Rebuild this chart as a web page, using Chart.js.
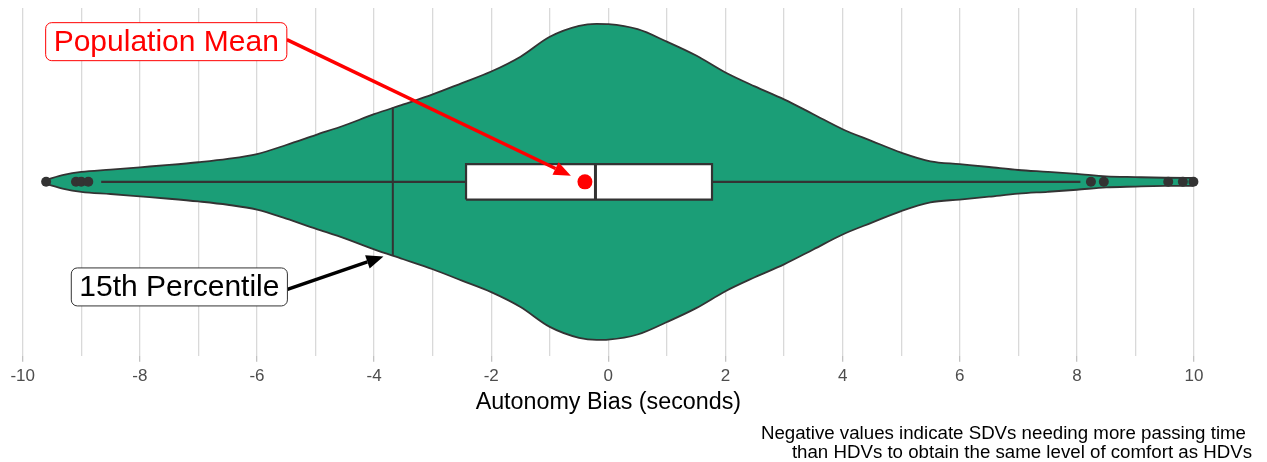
<!DOCTYPE html>
<html>
<head>
<meta charset="utf-8">
<script src="https://cdn.jsdelivr.net/npm/chart.js@4.4.1/dist/chart.umd.min.js"></script>
<style>
body { margin: 0; background: #fff; }
#wrap { width: 1267px; height: 462px; }
</style>
</head>
<body>
<div id="wrap"><canvas id="c1"></canvas></div>
<script>
"use strict";

// violin outline: x (seconds) and relative density (half width)
let violinX = [-9.6, -9.3, -9, -8.5, -8, -7.5, -7, -6.5, -6, -5.5, -5, -4.5, -4, -3.5, -3, -2.5, -2, -1.5, -1, -0.5, -0.2, 0,
    0.5, 1, 1.5, 2, 2.5, 3, 3.5, 4, 4.5, 5, 5.5, 6, 6.5, 7, 7.5, 8, 8.5, 9, 9.5, 9.99];
let violinD = [0.013, 0.044, 0.063, 0.077, 0.092, 0.107, 0.124, 0.145, 0.176, 0.233, 0.296, 0.358, 0.428, 0.49, 0.553, 0.625, 0.698, 0.792, 0.918, 0.987, 1.0, 0.998,
    0.966, 0.887, 0.799, 0.692, 0.604, 0.522, 0.428, 0.333, 0.258, 0.185, 0.13, 0.112, 0.094, 0.075, 0.063, 0.05, 0.035, 0.03, 0.026, 0.025];

// box plot
let boxQ = [-2.43, -0.22, 1.77];      // q1, median, q3
let whiskers = [-8.66, 8.06];
let outliers = [-9.6, -9.09, -9.0, -8.88, 8.24, 8.46, 9.56, 9.81, 9.99];
let meanValue = -0.40;

// 15th percentile line
let p15 = -3.68;
let p15Half = 0.47;

let tickValues = [-10, -9, -8, -7, -6, -5, -4, -3, -2, -1, 0, 1, 2, 3, 4, 5, 6, 7, 8, 9, 10];
let tickLabels = ['-10', '', '-8', '', '-6', '', '-4', '', '-2', '', '0', '', '2', '', '4', '', '6', '', '8', '', '10'];

let captionLines = ['Negative values indicate SDVs needing more passing time',
    'than HDVs to obtain the same level of comfort as HDVs'];

let BOX_HALF = 0.112;
let dark = '#333333';

Chart.defaults.font.family = "'Liberation Sans', Arial, sans-serif";

let upper = violinX.map((x, i) => ({x: x, y: violinD[i]}));
let lower = violinX.map((x, i) => ({x: x, y: -violinD[i]}));

let boxPts = [
    {x: boxQ[0], y: -BOX_HALF}, {x: boxQ[2], y: -BOX_HALF},
    {x: boxQ[2], y: BOX_HALF}, {x: boxQ[0], y: BOX_HALF}, {x: boxQ[0], y: -BOX_HALF}];

function lineSet(data, width, order) {
    return {data: data, showLine: true, borderColor: dark, borderWidth: width, pointRadius: 0, fill: false, order: order};
}

// rounded label box with its right edge at px, centered on py
function labelBox(ctx, text, px, py, col, border) {
    ctx.save();
    ctx.font = "30px 'Liberation Sans', Arial, sans-serif";
    let w = ctx.measureText(text).width + 16;
    let h = 38;
    ctx.beginPath();
    ctx.roundRect(px - w, py - h / 2, w, h, 6);
    ctx.fillStyle = '#fff';
    ctx.fill();
    ctx.lineWidth = 1;
    ctx.strokeStyle = border;
    ctx.stroke();
    ctx.fillStyle = col;
    ctx.textBaseline = 'middle';
    ctx.textAlign = 'left';
    ctx.fillText(text, px - w + 8, py + 1);
    ctx.restore();
}

function arrow(ctx, x0, y0, x1, y1, col) {
    let a = Math.atan2(y1 - y0, x1 - x0);
    let len = 17, hw = 7;
    let bx = x1 - len * Math.cos(a), by = y1 - len * Math.sin(a);
    ctx.save();
    ctx.strokeStyle = col;
    ctx.fillStyle = col;
    ctx.lineWidth = 3.5;
    ctx.beginPath();
    ctx.moveTo(x0, y0);
    ctx.lineTo(bx, by);
    ctx.stroke();
    ctx.beginPath();
    ctx.moveTo(x1, y1);
    ctx.lineTo(bx + hw * Math.sin(a), by - hw * Math.cos(a));
    ctx.lineTo(bx - hw * Math.sin(a), by + hw * Math.cos(a));
    ctx.closePath();
    ctx.fill();
    ctx.restore();
}

let notes = {
    id: 'notes',
    afterDatasetsDraw(chart) {
        let ctx = chart.ctx;
        let xs = chart.scales.x, ys = chart.scales.y;
        let px = v => xs.getPixelForValue(v), py = v => ys.getPixelForValue(v);

        arrow(ctx, px(-5.49), py(0.9), px(-0.64), py(0.038), '#ff0000');
        labelBox(ctx, 'Population Mean', px(-5.49), py(0.887), '#ff0000', '#ff0000');

        arrow(ctx, px(-5.48), py(-0.68), px(-3.84), py(-0.472), '#000');
        labelBox(ctx, '15th Percentile', px(-5.48), py(-0.665), '#000', dark);
    },
    afterDraw(chart) {
        let ctx = chart.ctx;
        ctx.save();
        ctx.font = "18.7px 'Liberation Sans', Arial, sans-serif";
        ctx.fillStyle = '#000';
        ctx.textAlign = 'right';
        ctx.textBaseline = 'alphabetic';
        ctx.fillText(captionLines[0], chart.width - 21, 439);
        ctx.fillText(captionLines[1], chart.width - 15, 458);
        ctx.restore();
    }
};

let c1 = document.querySelector('#c1');

let opts = {
    type: 'scatter',
    data: {
        datasets: [
            {data: upper, showLine: true, borderColor: dark, borderWidth: 1.8, pointRadius: 0,
                backgroundColor: '#1b9e77', fill: '+1', cubicInterpolationMode: 'monotone', order: 10},
            {data: lower, showLine: true, borderColor: dark, borderWidth: 1.8, pointRadius: 0,
                fill: false, cubicInterpolationMode: 'monotone', order: 10},
            lineSet([{x: whiskers[0], y: 0}, {x: boxQ[0], y: 0}], 2.2, 9),
            lineSet([{x: boxQ[2], y: 0}, {x: whiskers[1], y: 0}], 2.2, 9),
            {data: boxPts, showLine: true, borderColor: dark, borderWidth: 2.2, pointRadius: 0,
                backgroundColor: '#ffffff', fill: 'shape', borderJoinStyle: 'miter', order: 8},
            lineSet([{x: boxQ[1], y: -BOX_HALF}, {x: boxQ[1], y: BOX_HALF}], 3, 7),
            lineSet([{x: p15, y: -p15Half}, {x: p15, y: p15Half}], 2, 6),
            {data: outliers.map(v => ({x: v, y: 0})), pointRadius: 5, pointBackgroundColor: dark,
                pointBorderWidth: 0, clip: false, order: 5},
            {data: [{x: meanValue, y: 0}], pointRadius: 7.5, pointBackgroundColor: '#ff0000',
                pointBorderWidth: 0, order: 1},
        ],
    },
    options: {
        responsive: true,
        maintainAspectRatio: false,
        animation: false,
        layout: {padding: {left: 22.7, right: 73, top: 8, bottom: 47}},
        plugins: {
            legend: {display: false},
            tooltip: {enabled: false},
            filler: {drawTime: 'beforeDatasetsDraw'},
        },
        scales: {
            x: {
                type: 'linear', min: -10, max: 10,
                border: {display: false},
                afterBuildTicks: axis => { axis.ticks = tickValues.map(v => ({value: v})); },
                grid: {
                    color: '#d9d9d9', lineWidth: 1.3, tickLength: 6,
                    tickColor: c => (c.tick && tickLabels[tickValues.indexOf(c.tick.value)] !== '') ? '#c2c2c2' : 'rgba(0,0,0,0)',
                },
                ticks: {
                    color: '#4d4d4d', font: {size: 17}, padding: 4, maxRotation: 0, autoSkip: false,
                    callback: v => tickLabels[tickValues.indexOf(v)],
                },
                title: {display: true, text: 'Autonomy Bias (seconds)', color: '#000',
                    font: {size: 23.3, lineHeight: 1.07}, padding: {top: 0, bottom: 0}},
            },
            y: {display: false, min: -1.1, max: 1.1},
        },
    },
    plugins: [notes],
};

let chart1 = new Chart(c1, opts);
</script>
</body>
</html>
